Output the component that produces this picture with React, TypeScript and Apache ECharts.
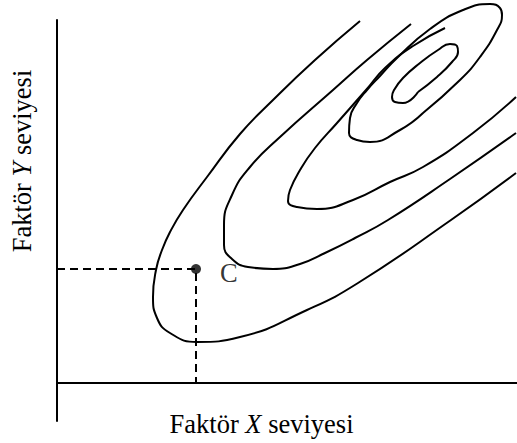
import React, { useEffect, useRef } from "react";
import * as echarts from "echarts";

// Unitless factor-level coordinates
const innerContour: number[][] = [[361,291],[346,280],[338,281],[335,286],[337,293],[346,305],[363,320],[381,333],[393,339],[400,337],[401,331],[395,321],[380,306],[361,291]];
const secondContour: number[][] = [[366,270],[343,253],[313,241],[300,243],[292,250],[293,265],[300,280],[310,293],[323,307],[340,325],[373,354],[406,373],[433,379],[443,375],[445,368],[440,353],[423,326],[403,303],[366,270]];
const thirdContour: number[][] = [[388,355],[356,337],[328,315],[309,293],[280,260],[258,235],[243,213],[233,193],[231,182],[240,176],[260,174],[296,183],[333,201],[366,216],[416,250],[459,286]];
const fourthContour: number[][] = [[354,359],[310,323],[276,293],[223,246],[193,216],[175,188],[167,158],[167,138],[175,124],[191,116],[216,114],[243,119],[268,130],[298,145],[331,163],[393,204],[459,250]];
const outerContour: number[][] = [[303,362],[258,323],[216,283],[183,249],[150,206],[126,173],[113,151],[105,133],[99,113],[96,86],[100,65],[113,50],[140,41],[183,46],[250,73],[301,100],[394,163],[459,210]];
const pointC: number[] = [139, 114];
const pointLabel = "C";
const xTitle = ["Faktör ", "X", " seviyesi"];
const yTitle = ["Faktör ", "Y", " seviyesi"];

const FONT = '"Liberation Serif", "Times New Roman", serif';
const FS = 26.5;

export default function App() {
  const ref = useRef<HTMLDivElement>(null);
  useEffect(() => {
    if (!ref.current) return;
    const chart = echarts.init(ref.current, undefined, { renderer: "svg" });
    const contourSeries = [innerContour, secondContour, thirdContour, fourthContour, outerContour].map((d) => ({
      type: "line",
      data: d,
      smooth: 0.5,
      showSymbol: false,
      symbol: "none",
      clip: false,
      silent: true,
      lineStyle: { color: "#000", width: 2 },
    }));
    const rich = {
      n: { fontFamily: FONT, fontSize: FS, fill: "#000", color: "#000" },
      i: { fontFamily: FONT, fontSize: FS, fontStyle: "italic", fill: "#000", color: "#000" },
    };
    chart.setOption({
      animation: false,
      backgroundColor: "#fff",
      grid: { left: 57, top: 20, width: 460, height: 401 },
      xAxis: {
        type: "value",
        min: 0,
        max: 460,
        axisLine: { show: true, onZero: true, lineStyle: { color: "#000", width: 2 } },
        axisTick: { show: false },
        axisLabel: { show: false },
        splitLine: { show: false },
      },
      yAxis: {
        type: "value",
        min: -38,
        max: 363,
        axisLine: { show: true, onZero: true, lineStyle: { color: "#000", width: 2 } },
        axisTick: { show: false },
        axisLabel: { show: false },
        splitLine: { show: false },
      },
      series: [
        ...contourSeries,
        {
          type: "line",
          data: [[0, pointC[1]], pointC, [pointC[0], 0]],
          showSymbol: false,
          symbol: "none",
          clip: false,
          silent: true,
          lineStyle: { color: "#000", width: 2, type: [8, 5] },
        },
        {
          type: "scatter",
          data: [pointC],
          symbolSize: 10,
          itemStyle: { color: "#000" },
          label: {
            show: true,
            formatter: pointLabel,
            position: "right",
            distance: 19,
            offset: [0, 4],
            fontFamily: FONT,
            fontSize: FS,
            color: "#000",
          },
        },
      ],
      graphic: [
        {
          type: "text",
          x: 261.5,
          y: 424,
          style: {
            text: `{n|${xTitle[0]}}{i|${xTitle[1]}}{n|${xTitle[2]}}`,
            rich,
            align: "center",
            verticalAlign: "middle",
            fill: "#000",
          },
        },
        {
          type: "text",
          x: 22,
          y: 161,
          rotation: Math.PI / 2,
          style: {
            text: `{n|${yTitle[0]}}{i|${yTitle[1]}}{n|${yTitle[2]}}`,
            rich,
            align: "center",
            verticalAlign: "middle",
            fill: "#000",
          },
        },
      ],
    });
    return () => chart.dispose();
  }, []);
  return (
    <div
      ref={ref}
      style={{ position: "fixed", left: 0, top: 0, width: 517, height: 443, background: "#fff" }}
    />
  );
}
